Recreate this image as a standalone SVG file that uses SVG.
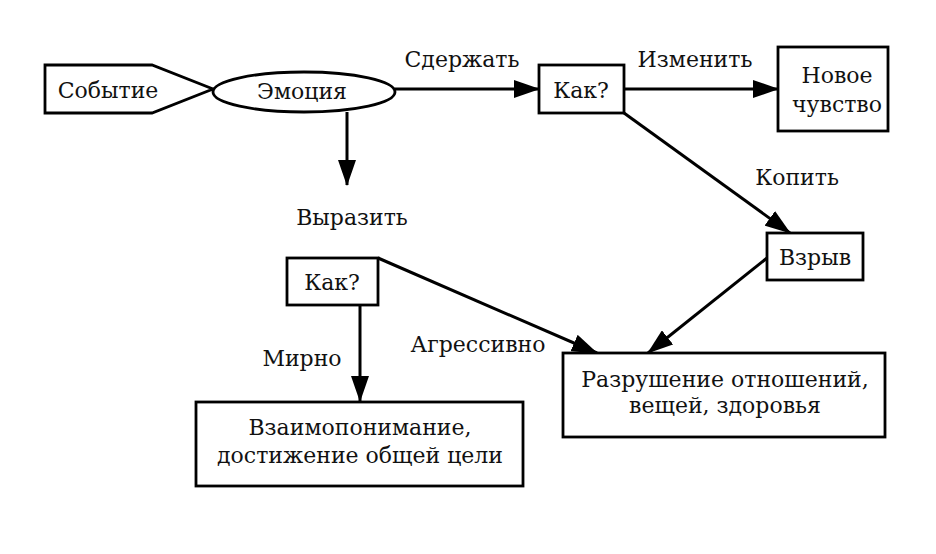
<svg xmlns="http://www.w3.org/2000/svg" width="936" height="554" viewBox="0 0 936 554">
<style>
.shape{fill:#fff;stroke:#000;stroke-width:2.8}
.line{fill:none;stroke:#000;stroke-width:3}
text{font-family:"DejaVu Serif","Liberation Serif",serif;font-size:22px;fill:#111;text-anchor:middle}
</style>
<defs>
<marker id="arr" markerUnits="userSpaceOnUse" viewBox="0 0 26 18" refX="25" refY="9" markerWidth="26" markerHeight="18" orient="auto">
<path d="M0,0 L26,9 L0,18 Z" fill="#000"/>
</marker>
</defs>
<rect width="936" height="554" fill="#fff"/>
<g id="connectors">
<line class="line" x1="395" y1="89" x2="539" y2="89" marker-end="url(#arr)"/>
<line class="line" x1="347" y1="112" x2="347" y2="185" marker-end="url(#arr)"/>
<line class="line" x1="624" y1="89" x2="778" y2="89" marker-end="url(#arr)"/>
<line class="line" x1="624" y1="113" x2="790" y2="233" marker-end="url(#arr)"/>
<line class="line" x1="378" y1="258" x2="597" y2="353" marker-end="url(#arr)"/>
<line class="line" x1="360" y1="305" x2="360" y2="401" marker-end="url(#arr)"/>
<line class="line" x1="767" y1="258" x2="648" y2="353" marker-end="url(#arr)"/>
<text x="462" y="67">Сдержать</text>
<text x="695" y="67">Изменить</text>
<text x="797" y="185">Копить</text>
<text x="352" y="225">Выразить</text>
<text x="478" y="352">Агрессивно</text>
<text x="302" y="366">Мирно</text>
</g>
<g id="event">
<path class="shape" d="M45,65 L152,65 L213,89 L152,113 L45,113 Z"/>
<text x="108" y="98">Событие</text>
</g>
<g id="emotion">
<ellipse class="shape" cx="304" cy="92" rx="91" ry="20"/>
<text x="302" y="99">Эмоция</text>
</g>
<g id="how1">
<rect class="shape" x="539" y="65" width="85" height="48"/>
<text x="581" y="98">Как?</text>
</g>
<g id="newfeeling">
<rect class="shape" x="778" y="47" width="110" height="84"/>
<text x="837" y="83">Новое</text>
<text x="837" y="112">чувство</text>
</g>
<g id="explosion">
<rect class="shape" x="767" y="233" width="96" height="47"/>
<text x="815" y="265">Взрыв</text>
</g>
<g id="how2">
<rect class="shape" x="287" y="258" width="91" height="47"/>
<text x="332" y="290">Как?</text>
</g>
<g id="understanding">
<rect class="shape" x="196" y="402" width="327" height="84"/>
<text x="360" y="435">Взаимопонимание,</text>
<text x="360" y="463">достижение общей цели</text>
</g>
<g id="destruction">
<rect class="shape" x="563" y="353" width="322" height="84"/>
<text x="725" y="387">Разрушение отношений,</text>
<text x="725" y="413">вещей, здоровья</text>
</g>
</svg>
